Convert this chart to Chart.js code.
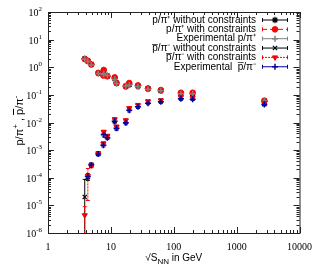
<!DOCTYPE html>
<html><head>
<meta charset="utf-8">
<title>p/pi ratios</title>
<script src="https://cdn.jsdelivr.net/npm/chart.js"></script>
<style>
body { margin:0; background:#ffffff; }
#wrap { width:320px; height:280px; }
</style>
<script>
// collision energies (GeV)
const energies = [3.84, 4.3, 4.88, 6.3, 7.6, 7.7, 8.8, 11.5, 12.3, 17.3, 19.6, 27, 39, 62.4, 130, 200, 2760];

// p/pi+
const pPiNoCons    = [2.0, 1.7, 1.3, 0.62, 0.55, 0.6, 0.48, 0.4, 0.27, 0.21, 0.24, 0.21, 0.17, 0.14, 0.11, 0.11, 0.058];
const pPiNoConsErr = [0.2, 0.15, 0.12, 0.06, 0.05, 0.06, 0.05, 0.04, 0.03, 0.02, 0.03, 0.02, 0.02, 0.015, 0.012, 0.012, 0.006];
const pPiCons      = [2.0, 1.7, 1.25, 0.62, 0.5, 0.8, 0.47, 0.43, 0.27, 0.2, 0.27, 0.22, 0.17, 0.15, 0.12, 0.12, 0.062];
const pPiConsErr   = [0.2, 0.15, 0.12, 0.06, 0.05, 0.08, 0.05, 0.04, 0.03, 0.02, 0.03, 0.02, 0.02, 0.015, 0.012, 0.012, 0.006];
const pPiExp       = [1.95, 1.6, 1.2, 0.6, 0.55, 0.6, 0.5, 0.37, 0.26, 0.21, 0.23, 0.2, 0.16, 0.14, 0.11, 0.11, 0.06];
const pPiExpErr    = [0.25, 0.2, 0.15, 0.08, 0.07, 0.08, 0.07, 0.05, 0.04, 0.04, 0.04, 0.035, 0.025, 0.02, 0.015, 0.015, 0.008];

// pbar/pi-
const pbarNoCons    = [2.0e-5, 1.1e-4, 2.9e-4, 7.5e-4, 1.7e-3, 4.3e-3, 3.2e-3, 0.012, 0.0068, 0.011, 0.031, 0.042, 0.057, 0.062, 0.08, 0.076, 0.047];
const pbarNoConsErr = [6.7e-5, 3e-5, 5e-5, 1e-4, 2.5e-4, 6e-4, 5e-4, 0.002, 0.001, 0.0015, 0.004, 0.005, 0.006, 0.007, 0.009, 0.008, 0.005];
const pbarCons      = [4.4e-6, 1.15e-4, 2.8e-4, 7.6e-4, 1.7e-3, 4.6e-3, 3.2e-3, 0.013, 0.007, 0.012, 0.033, 0.042, 0.058, 0.063, 0.082, 0.078, 0.05];
const pbarConsErr   = [4.6e-6, 1.0e-4, 5e-5, 1e-4, 2.5e-4, 6e-4, 5e-4, 0.002, 0.001, 0.0015, 0.004, 0.005, 0.006, 0.007, 0.009, 0.008, 0.005];
const pbarExp       = [null, 1.1e-4, 2.9e-4, 7.2e-4, 1.5e-3, 3.6e-3, 2.8e-3, 0.011, 0.0062, 0.0098, 0.028, 0.037, 0.05, 0.056, 0.072, 0.07, 0.045];
const pbarExpErr    = [null, 2e-5, 4e-5, 1e-4, 2e-4, 6e-4, 4e-4, 0.002, 0.001, 0.0015, 0.004, 0.005, 0.006, 0.007, 0.009, 0.008, 0.005];

const legendLabels = ["p/\u03c0\u207a without constraints", "p/\u03c0\u207a with constraints", "Experimental p/\u03c0\u207a",
                      "p\u0305/\u03c0\u207b without constraints", "p\u0305/\u03c0\u207b with constraints", "Experimental  p\u0305/\u03c0\u207b"];
const xTicks = [1, 10, 100, 1000, 10000];
const yTicks = [1e-6, 1e-5, 1e-4, 1e-3, 1e-2, 1e-1, 1, 10, 100];
// y title pieces: [text, kind]  kind: n normal, s superscript, o overline
const yTitle = [["p/\u03c0","n"], ["+","s"], [" , ","n"], ["p","o"], ["/\u03c0","n"], ["-","s"]];

function pts(vals) {
  var out = [];
  for (var i = 0; i < energies.length; i++) { if (vals[i] != null) out.push({x:energies[i], y:vals[i]}); }
  return out; }
function errs(vals) { return vals.filter(function(v){ return v != null; }); }

const errorBars = {
  id:'errorBars',
  beforeDatasetsDraw(chart) {
    var ctx = chart.ctx, ys = chart.scales.y, xs = chart.scales.x, a = chart.chartArea;
    chart.data.datasets.forEach(function(ds) {
      ctx.save();
      ctx.strokeStyle = ds.borderColor; ctx.lineWidth = 1;
      ctx.beginPath(); ctx.rect(a.left, a.top, a.right-a.left, a.bottom-a.top); ctx.clip();
      ds.data.forEach(function(p, i) {
        var e = ds.errors[i], px = xs.getPixelForValue(p.x);
        var lo = p.y - e, hi = p.y + e;
        var ylo = lo > ys.min ? ys.getPixelForValue(lo) : a.bottom;
        var yhi = ys.getPixelForValue(hi);
        ctx.setLineDash(ds.dash || []);
        ctx.beginPath(); ctx.moveTo(px, ylo); ctx.lineTo(px, yhi); ctx.stroke();
        ctx.setLineDash([]);
        ctx.beginPath(); ctx.moveTo(px-2, yhi); ctx.lineTo(px+2, yhi);
        if (lo > ys.min) { ctx.moveTo(px-2, ylo); ctx.lineTo(px+2, ylo); }
        ctx.stroke(); });
      ctx.restore(); }); } };

const frame = {
  id:'frame',
  afterDraw(chart) {
    var ctx = chart.ctx, a = chart.chartArea, xs = chart.scales.x, ys = chart.scales.y;
    ctx.save();
    ctx.strokeStyle = '#222'; ctx.lineWidth = 1;
    ctx.strokeRect(a.left+0.5, a.top+0.5, a.right-a.left, a.bottom-a.top);
    ctx.beginPath();
    for (var d = 1; d <= 10000; d *= 10) {
      for (var k = 1; k < 10; k++) {
        var v = d*k; if (v > 10000) break;
        var px = Math.round(xs.getPixelForValue(v))+0.5, len = (k == 1) ? 6 : 3;
        ctx.moveTo(px, a.bottom); ctx.lineTo(px, a.bottom-len);
        ctx.moveTo(px, a.top); ctx.lineTo(px, a.top+len); } }
    for (var d = 1e-6; d <= 100; d *= 10) {
      for (var k = 1; k < 10; k++) {
        var v = d*k; if (v > 100.01) break;
        var py = Math.round(ys.getPixelForValue(v))+0.5, len = (k == 1) ? 6 : 3;
        ctx.moveTo(a.left, py); ctx.lineTo(a.left+len, py);
        ctx.moveTo(a.right, py); ctx.lineTo(a.right-len, py); } }
    ctx.stroke();

    // y tick labels 10^n
    ctx.fillStyle = '#000'; ctx.textBaseline = 'alphabetic'; ctx.textAlign = 'left';
    yTicks.forEach(function(v) {
      var ex = String(Math.round(Math.log10(v))), py = ys.getPixelForValue(v);
      ctx.font = '7px "Liberation Serif"'; var we = ctx.measureText(ex).width;
      ctx.font = '10px "Liberation Serif"'; var wb = ctx.measureText('10').width;
      var x0 = a.left - 6 - we - wb;
      ctx.fillText('10', x0, py + 4);
      ctx.font = '7px "Liberation Serif"'; ctx.fillText(ex, x0 + wb, py - 1); });

    // y axis title, rotated
    ctx.save(); ctx.translate(19, (a.top + a.bottom)/2 - 2); ctx.rotate(-Math.PI/2);
    var fN = '11px "Liberation Sans"', fS = '8px "Liberation Sans"', tw = 0;
    yTitle.forEach(function(p){ ctx.font = p[1] == 's' ? fS : fN; tw += ctx.measureText(p[0]).width; });
    var cx = -tw/2;
    yTitle.forEach(function(p) {
      ctx.font = p[1] == 's' ? fS : fN;
      var w = ctx.measureText(p[0]).width;
      ctx.fillText(p[0], cx, p[1] == 's' ? -1 : 4);
      if (p[1] == 'o') { ctx.fillRect(cx, -6, w, 1); }
      cx += w; });
    ctx.restore();

    // x axis title with subscript
    ctx.textAlign = 'left';
    var f1 = '10px "Liberation Sans"', f2 = '8px "Liberation Sans"';
    var t1 = '\u221aS', t2 = 'NN', t3 = ' in GeV';
    ctx.font = f1; var w1 = ctx.measureText(t1).width, w3 = ctx.measureText(t3).width;
    ctx.font = f2; var w2 = ctx.measureText(t2).width;
    var x0 = (a.left+a.right)/2 - (w1+w2+w3)/2, yb = 261;
    ctx.font = f1; ctx.fillText(t1, x0, yb);
    ctx.font = f2; ctx.fillText(t2, x0+w1, yb+3);
    ctx.font = f1; ctx.fillText(t3, x0+w1+w2, yb);

    // legend
    ctx.font = '10px "Liberation Sans"'; ctx.textAlign = 'right'; ctx.textBaseline = 'middle';
    chart.data.datasets.forEach(function(ds, i) {
      var yy = a.top + 8 + i*9.35;
      ctx.fillStyle = '#000'; ctx.fillText(legendLabels[i], 256, yy);
      ctx.strokeStyle = ds.borderColor; ctx.fillStyle = ds.backgroundColor; ctx.lineWidth = 1;
      ctx.setLineDash(ds.dash || []);
      ctx.beginPath(); ctx.moveTo(262, yy); ctx.lineTo(288, yy); ctx.stroke();
      ctx.setLineDash([]);
      ctx.beginPath(); ctx.moveTo(262.5, yy-2); ctx.lineTo(262.5, yy+2); ctx.moveTo(287.5, yy-2); ctx.lineTo(287.5, yy+2); ctx.stroke();
      ctx.lineWidth = ds.pointBorderWidth;
      Chart.helpers.drawPoint(ctx, {pointStyle:ds.pointStyle, radius:ds.pointRadius, rotation:ds.pointRotation||0, borderWidth:ds.pointBorderWidth}, 275, yy);
    });
    ctx.restore(); } };

function initChart() {
  var data = {datasets:[{
    label:legendLabels[0], data:pts(pPiNoCons), errors:errs(pPiNoConsErr),
    borderColor:'#000000', backgroundColor:'#000000', pointStyle:'star', pointRadius:3.2, pointBorderWidth:1.2, order:6},{
    label:legendLabels[1], data:pts(pPiCons), errors:errs(pPiConsErr), dash:[5,3],
    borderColor:'#ff0000', backgroundColor:'#ff0000', pointStyle:'circle', pointRadius:2.8, pointBorderWidth:1, order:5},{
    label:legendLabels[2], data:pts(pPiExp), errors:errs(pPiExpErr),
    borderColor:'#808080', backgroundColor:'#808080', pointStyle:'cross', pointRadius:3, pointBorderWidth:1.5, order:4},{
    label:legendLabels[3], data:pts(pbarNoCons), errors:errs(pbarNoConsErr),
    borderColor:'#000000', backgroundColor:'#000000', pointStyle:'crossRot', pointRadius:3, pointBorderWidth:1.2, order:3},{
    label:legendLabels[4], data:pts(pbarCons), errors:errs(pbarConsErr), dash:[2,1],
    borderColor:'#ff0000', backgroundColor:'#ff0000', pointStyle:'triangle', pointRotation:180, pointRadius:3, pointBorderWidth:1, order:2},{
    label:legendLabels[5], data:pts(pbarExp), errors:errs(pbarExpErr),
    borderColor:'#0000a0', backgroundColor:'#0000a0', pointStyle:'cross', pointRadius:3, pointBorderWidth:1.5, order:1}]};

  var config = {type:'scatter', data:data, plugins:[errorBars, frame], options:{
    responsive:false, animation:false, devicePixelRatio:1,
    layout:{padding:{left:0, right:20, top:12, bottom:0}},
    plugins:{legend:{display:false}, tooltip:{enabled:false}},
    scales:{
      x:{type:'logarithmic', min:1, max:10000,
        afterBuildTicks:function(s){ s.ticks = xTicks.map(function(v){ return {value:v}; }); },
        afterFit:function(s){ s.height = 47; },
        grid:{display:false, drawTicks:false}, border:{display:false},
        ticks:{padding:8, color:'#000', maxRotation:0, autoSkip:false, font:{family:'"Liberation Serif"', size:10},
          callback:function(v){ return String(v); }}},
      y:{type:'logarithmic', min:1e-6, max:100,
        afterBuildTicks:function(s){ s.ticks = yTicks.map(function(v){ return {value:v}; }); },
        afterFit:function(s){ s.width = 48; },
        grid:{display:false, drawTicks:false}, border:{display:false},
        ticks:{display:false}}}}};
  new Chart(document.getElementById('c'), config); }
</script></head>
<body onload="initChart();">
<div id="wrap"><canvas id="c" width="320" height="280"></canvas></div>
</body></html>
